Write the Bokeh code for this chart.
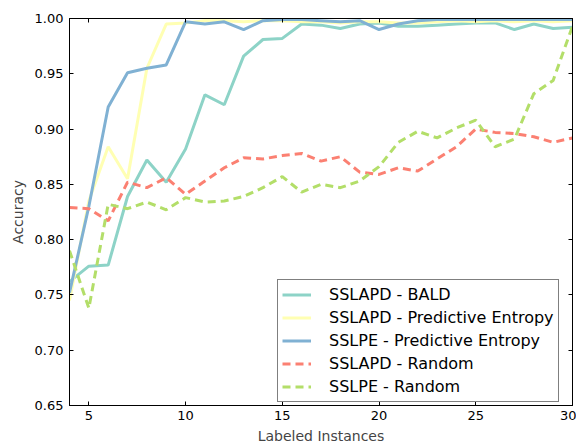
from bokeh.plotting import figure
from bokeh.models import (Legend, LegendItem, LinearAxis, FixedTicker,
                          Range1d, CustomJSTickFormatter)
from bokeh.embed import file_html
from bokeh.resources import INLINE

# Number of labeled instances
labeled = list(range(4, 31))

# Accuracy for each query strategy
sslapd_bald = [0.762, 0.776, 0.777, 0.839, 0.872, 0.852, 0.882, 0.931, 0.922, 0.966,
               0.981, 0.982, 0.995, 0.994, 0.991, 0.995, 0.996, 0.993, 0.993, 0.994,
               0.995, 0.996, 0.996, 0.990, 0.995, 0.991, 0.992]
sslapd_entropy = [0.745, 0.835, 0.884, 0.855, 0.955, 0.995, 0.996, 0.998, 0.998, 0.997,
                  0.998, 0.998, 0.997, 0.997, 0.996, 0.997, 0.997, 0.996, 0.996, 0.997,
                  0.998, 0.997, 0.998, 0.997, 0.998, 0.997, 0.998]
sslpe_entropy = [0.752, 0.830, 0.920, 0.951, 0.955, 0.958, 0.997, 0.995, 0.997, 0.990,
                 0.998, 0.999, 0.999, 0.998, 0.997, 0.998, 0.990, 0.995, 0.998, 0.999,
                 0.999, 0.999, 0.999, 0.999, 0.999, 0.999, 0.999]
sslapd_random = [0.829, 0.828, 0.817, 0.852, 0.847, 0.856, 0.841, 0.853, 0.865, 0.874,
                 0.873, 0.876, 0.878, 0.871, 0.875, 0.861, 0.859, 0.865, 0.862, 0.873,
                 0.884, 0.900, 0.897, 0.896, 0.893, 0.888, 0.892]
sslpe_random = [0.790, 0.738, 0.832, 0.828, 0.834, 0.827, 0.838, 0.834, 0.835, 0.839,
                0.847, 0.857, 0.843, 0.850, 0.847, 0.853, 0.866, 0.888, 0.898, 0.892,
                0.901, 0.908, 0.884, 0.891, 0.932, 0.944, 0.993]

series_labels = ["SSLAPD - BALD", "SSLAPD - Predictive Entropy",
                 "SSLPE - Predictive Entropy", "SSLAPD - Random", "SSLPE - Random"]

x_ticks = [5, 10, 15, 20, 25, 30]
y_ticks = [0.65, 0.70, 0.75, 0.80, 0.85, 0.90, 0.95, 1.00]

FONT = "DejaVu Sans"

p = figure(width=576, height=446, output_backend="svg", toolbar_location=None,
           x_range=Range1d(4, 30), y_range=Range1d(0.65, 1.00),
           min_border_left=69, min_border_right=4, min_border_top=18,
           min_border_bottom=38)
p.grid.visible = False
p.outline_line_color = "black"
p.outline_line_width = 1
p.background_fill_color = "white"
p.border_fill_color = "white"

def style_axis(ax, labels=True):
    ax.major_tick_in = 4
    ax.major_tick_out = 0
    ax.minor_tick_line_color = None
    ax.axis_line_color = "black"
    ax.major_tick_line_color = "black"
    ax.major_label_text_font = FONT
    ax.major_label_text_font_size = "13px"
    ax.major_label_text_color = "black"
    ax.axis_label_text_font = FONT
    ax.axis_label_text_font_size = "14px"
    ax.axis_label_text_font_style = "normal"
    if not labels:
        ax.formatter = CustomJSTickFormatter(code="return '';")
        ax.major_label_standoff = 0

p.xaxis.ticker = FixedTicker(ticks=x_ticks)
p.yaxis.ticker = FixedTicker(ticks=y_ticks)
p.yaxis.formatter = CustomJSTickFormatter(code="return tick.toFixed(2);")
p.xaxis.axis_label = "Labeled Instances"
p.yaxis.axis_label = "Accuracy"
style_axis(p.xaxis[0])
style_axis(p.yaxis[0])
p.xaxis.major_label_standoff = 5
p.yaxis.major_label_standoff = 6
p.xaxis.axis_label_standoff = 5
p.yaxis.axis_label_standoff = 6

# tick marks on the top and right edges as well
top = LinearAxis(ticker=FixedTicker(ticks=x_ticks))
right = LinearAxis(ticker=FixedTicker(ticks=y_ticks))
style_axis(top, labels=False)
style_axis(right, labels=False)
p.add_layout(top, "above")
p.add_layout(right, "right")

colors = ["#8dd3c7", "#ffffb3", "#80b1d3", "#fb8072", "#b3de69"]
all_series = [sslapd_bald, sslapd_entropy, sslpe_entropy, sslapd_random, sslpe_random]
dashes = ["solid", "solid", "solid", "8 5", "8 5"]

items = []
for vals, col, dash, lab in zip(all_series, colors, dashes, series_labels):
    r = p.line(labeled, vals, line_color=col, line_width=3, line_dash=dash)
    items.append(LegendItem(label=lab, renderers=[r]))

legend = Legend(items=items, location=(208, 3))
legend.label_text_font = FONT
legend.label_text_font_size = "16px"
legend.label_text_color = "black"
legend.glyph_width = 29
legend.glyph_height = 21
legend.label_height = 21
legend.label_standoff = 18
legend.spacing = 2
legend.padding = 4
legend.margin = 0
legend.border_line_color = "black"
legend.border_line_width = 1
legend.background_fill_color = "white"
legend.background_fill_alpha = 1.0
p.add_layout(legend, "center")

open("out.html", "w").write(file_html(p, INLINE))
